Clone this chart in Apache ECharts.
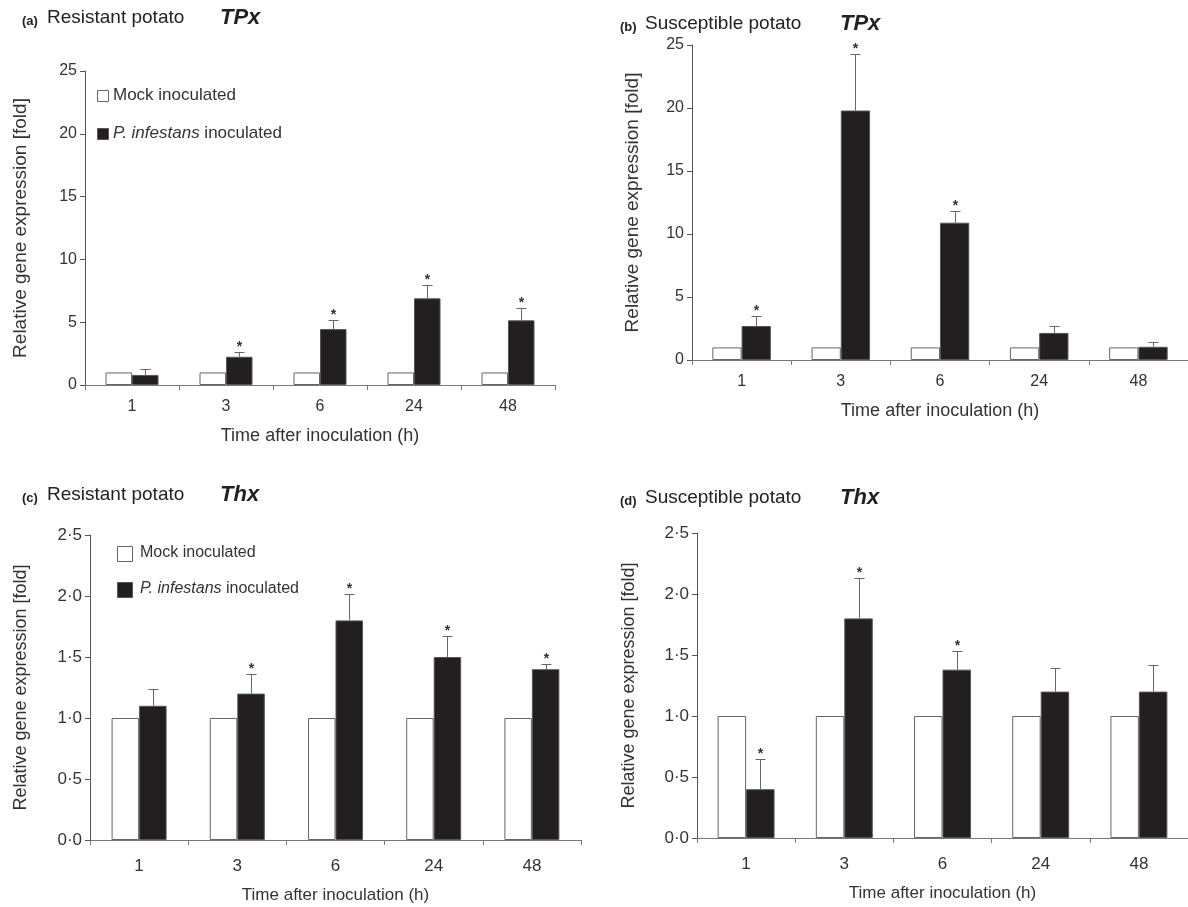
<!DOCTYPE html>
<html><head><meta charset="utf-8">
<script src="https://cdn.jsdelivr.net/npm/echarts@6/dist/echarts.min.js"></script>
<style>html,body{margin:0;padding:0;background:#fff}#c{width:1188px;height:907px}</style>
</head><body><div id="c"></div>
<script>
// ---- data ----
const categories = ['1', '3', '6', '24', '48'];
const tpxTicks = ['0', '5', '10', '15', '20', '25'];
const thxTicks = ['0·0', '0·5', '1·0', '1·5', '2·0', '2·5'];
const seriesNames = ['Mock inoculated', 'P. infestans inoculated'];

const mockA = [1, 1, 1, 1, 1];
const infA = [0.8, 2.25, 4.45, 6.9, 5.15];
const errA = [0.5, 0.35, 0.7, 1.1, 1.0];
const sigA = [0, 1, 1, 1, 1];

const mockB = [1, 1, 1, 1, 1];
const infB = [2.7, 19.8, 10.9, 2.15, 1.05];
const errB = [0.8, 4.5, 0.9, 0.55, 0.4];
const sigB = [1, 1, 1, 0, 0];

const mockC = [1, 1, 1, 1, 1];
const infC = [1.1, 1.2, 1.8, 1.5, 1.4];
const errC = [0.14, 0.16, 0.22, 0.175, 0.045];
const sigC = [0, 1, 1, 1, 1];

const mockD = [1, 1, 1, 1, 1];
const infD = [0.4, 1.8, 1.38, 1.2, 1.2];
const errD = [0.25, 0.335, 0.155, 0.195, 0.22];
const sigD = [1, 1, 1, 0, 0];

// ---- layout ----
const FONT = '"Liberation Sans", Arial, sans-serif';
const panels = [
  { label: '(a)', host: 'Resistant potato', gene: 'TPx', mock: mockA, inf: infA, err: errA, sig: sigA,
    ticks: tpxTicks, max: 25, interval: 5, gapFrac: 0.436,
    grid: { left: 85, top: 71, width: 470, height: 314 }, tickFont: 16, tickMargin: 14, xNameFont: 18, yNameFont: 19,
    xNameGap: 42, yNameGap: 55, titleX: 22, titleY: 18, geneX: 220,
    legend: { x: 97, y1: 95, y2: 133, size: 11, tx: 113, font: 17 } },
  { label: '(b)', host: 'Susceptible potato', gene: 'TPx', mock: mockB, inf: infB, err: errB, sig: sigB,
    ticks: tpxTicks, max: 25, interval: 5, gapFrac: 0.41,
    grid: { left: 692, top: 45, width: 500, height: 315 }, tickFont: 16, tickMargin: 14, xNameFont: 18, yNameFont: 19,
    xNameGap: 42, yNameGap: 50, titleX: 620, titleY: 24, geneX: 840, legend: null },
  { label: '(c)', host: 'Resistant potato', gene: 'Thx', mock: mockC, inf: infC, err: errC, sig: sigC,
    ticks: thxTicks, max: 2.5, interval: 0.5, gapFrac: 0.44,
    grid: { left: 90, top: 535, width: 491, height: 305 }, tickFont: 17, tickMargin: 18, xNameFont: 17, yNameFont: 18,
    xNameGap: 47, yNameGap: 60, titleX: 22, titleY: 495, geneX: 220,
    legend: { x: 117, y1: 553, y2: 589, size: 15, tx: 140, font: 16 } },
  { label: '(d)', host: 'Susceptible potato', gene: 'Thx', mock: mockD, inf: infD, err: errD, sig: sigD,
    ticks: thxTicks, max: 2.5, interval: 0.5, gapFrac: 0.42,
    grid: { left: 697, top: 533, width: 500, height: 305 }, tickFont: 17, tickMargin: 18, xNameFont: 17, yNameFont: 18,
    xNameGap: 47, yNameGap: 59, titleX: 620, titleY: 498, geneX: 840, legend: null }
];

function errRender(gapFrac) {
  return function (params, api) {
    const k = api.value(0), v = api.value(1), e = api.value(2), s = api.value(3);
    const band = api.size([1, 0])[0];
    const bw = band * (1 - gapFrac) / 2;
    const base = api.coord([k, v]);
    const top = api.coord([k, v + e]);
    const x = Math.round(base[0] + bw / 2) + 0.5;
    const ty = Math.round(top[1]) + 0.5;
    const children = [
      { type: 'line', shape: { x1: x, y1: base[1], x2: x, y2: ty }, style: { stroke: '#666', lineWidth: 1 } },
      { type: 'line', shape: { x1: x - 5, y1: ty, x2: x + 5, y2: ty }, style: { stroke: '#666', lineWidth: 1 } }
    ];
    if (s) {
      children.push({ type: 'text', x: x, y: ty - 5,
        style: { text: '*', font: 'bold 14px ' + FONT, fill: '#333', align: 'center', verticalAlign: 'middle' } });
    }
    return { type: 'group', children: children };
  };
}

const grids = [], xAxes = [], yAxes = [], series = [], graphics = [];
panels.forEach(function (p, i) {
  grids.push(Object.assign({ containLabel: false }, p.grid));
  xAxes.push({
    type: 'category', gridIndex: i, data: categories,
    name: 'Time after inoculation (h)', nameLocation: 'middle', nameGap: p.xNameGap,
    nameTextStyle: { fontFamily: FONT, fontSize: p.xNameFont, color: '#333' },
    axisLine: { lineStyle: { color: '#777', width: 1 } },
    axisTick: { show: true, length: 5, lineStyle: { color: '#777' } },
    axisLabel: { fontFamily: FONT, fontSize: p.tickFont, color: '#333', margin: p.tickMargin }
  });
  yAxes.push({
    type: 'value', gridIndex: i, min: 0, max: p.max, interval: p.interval,
    name: 'Relative gene expression [fold]', nameLocation: 'middle', nameRotate: 90, nameGap: p.yNameGap,
    nameTextStyle: { fontFamily: FONT, fontSize: p.yNameFont, color: '#333' },
    axisLine: { show: true, lineStyle: { color: '#555', width: 1 } },
    axisTick: { show: true, length: 5, lineStyle: { color: '#555' } },
    splitLine: { show: false },
    axisLabel: { fontFamily: FONT, fontSize: p.tickFont, color: '#333', margin: 8,
      formatter: (function (ticks, step) { return function (v) { return ticks[Math.round(v / step)]; }; })(p.ticks, p.interval) }
  });
  series.push({
    type: 'bar', name: seriesNames[0], xAxisIndex: i, yAxisIndex: i, data: p.mock,
    barGap: '0%', barCategoryGap: (p.gapFrac * 100) + '%',
    itemStyle: { color: '#ffffff', borderColor: '#666', borderWidth: 1 }, silent: true
  });
  series.push({
    type: 'bar', name: seriesNames[1], xAxisIndex: i, yAxisIndex: i, data: p.inf,
    barGap: '0%', barCategoryGap: (p.gapFrac * 100) + '%',
    itemStyle: { color: '#231f20', borderColor: '#555', borderWidth: 1 }, silent: true
  });
  series.push({
    type: 'custom', xAxisIndex: i, yAxisIndex: i, renderItem: errRender(p.gapFrac),
    encode: { x: 0, y: 1 }, silent: true, z: 5,
    data: categories.map(function (c, k) { return [k, p.inf[k], p.err[k], p.sig[k]]; })
  });
  // titles
  graphics.push({ type: 'text', x: p.titleX, y: p.titleY + 3,
    style: { text: p.label, font: 'bold 13px ' + FONT, fill: '#222', verticalAlign: 'middle' } });
  graphics.push({ type: 'text', x: p.titleX + 25, y: p.titleY,
    style: { text: p.host, font: '19px ' + FONT, fill: '#222', verticalAlign: 'middle' } });
  graphics.push({ type: 'text', x: p.geneX, y: p.titleY,
    style: { text: p.gene, font: 'italic bold 22px ' + FONT, fill: '#222', verticalAlign: 'middle' } });
  // legend
  if (p.legend) {
    const L = p.legend;
    graphics.push({ type: 'rect', shape: { x: L.x + 0.5, y: Math.round(L.y1 - L.size / 2) + 0.5, width: L.size, height: L.size },
      style: { fill: '#fff', stroke: '#666', lineWidth: 1 } });
    graphics.push({ type: 'rect', shape: { x: L.x + 0.5, y: Math.round(L.y2 - L.size / 2) + 0.5, width: L.size, height: L.size },
      style: { fill: '#231f20', stroke: '#555', lineWidth: 1 } });
    graphics.push({ type: 'text', x: L.tx, y: L.y1,
      style: { text: seriesNames[0], font: L.font + 'px ' + FONT, fill: '#333', verticalAlign: 'middle' } });
    graphics.push({ type: 'text', x: L.tx, y: L.y2,
      style: { text: '{i|P. infestans} inoculated', font: L.font + 'px ' + FONT, fill: '#333', verticalAlign: 'middle',
        rich: { i: { fontStyle: 'italic', fontFamily: FONT, fontSize: L.font, fill: '#333' } } } });
  }
});

const chart = echarts.init(document.getElementById('c'), null, { renderer: 'canvas' });
chart.setOption({
  backgroundColor: '#fff',
  animation: false,
  grid: grids, xAxis: xAxes, yAxis: yAxes, series: series, graphic: graphics
});
</script></body></html>
